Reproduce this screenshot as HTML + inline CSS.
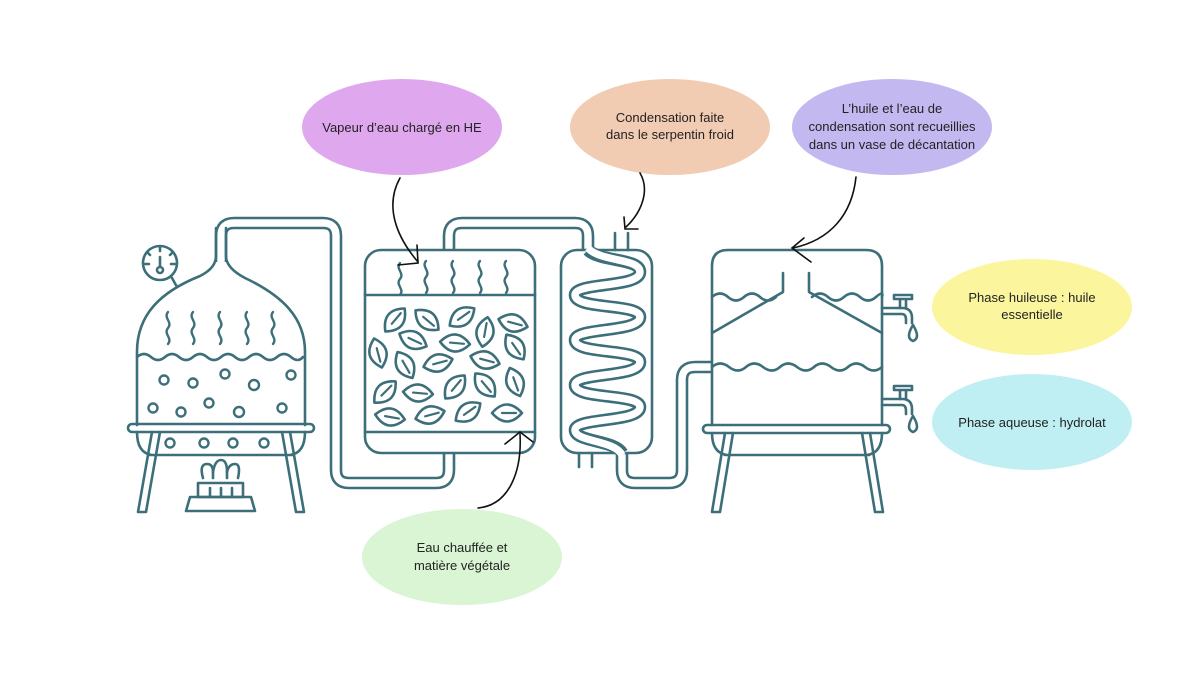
<!DOCTYPE html>
<html><head><meta charset="utf-8"><style>
html,body{margin:0;padding:0;background:#fff;}
svg{display:block;}
text{font-family:"Liberation Sans",sans-serif;font-size:13px;fill:#222;}
</style></head><body>
<svg width="1200" height="675" viewBox="0 0 1200 675" xmlns="http://www.w3.org/2000/svg">
<defs>
<g id="leaf"><path d="M-15,0 Q0,-17 15,0 Q0,17 -15,0 Z" fill="#fff" stroke="#3d6f7a" stroke-width="2.6" stroke-linejoin="round"/><line x1="-5" y1="0" x2="9" y2="0" stroke="#3d6f7a" stroke-width="2.2"/></g>
<path id="sq" d="M0,0 c-5,6 5,10 0,16 c-5,6 5,10 0,16" fill="none" stroke="#3d6f7a" stroke-width="2.4" stroke-linecap="round"/>
<g id="tap" fill="none" stroke="#3d6f7a" stroke-width="2.6" stroke-linecap="round" stroke-linejoin="round">
<path d="M0,-3 H20 Q30,-3 30,7 V12 M0,3 H20 Q24,3 24,9 V12"/>
<path d="M18,-3 V-12 M24,-3 V-12 M12,-12 H30 M12,-16 H30 M12,-12 V-16 M30,-12 V-16"/>
<path d="M31,14 Q23,27 31,30 Q39,27 31,14 Z"/>
</g>
</defs>

<ellipse cx="402" cy="127" rx="100" ry="48" fill="#dfa8ee"/>
<text x="402" y="132" text-anchor="middle">Vapeur d’eau chargé en HE</text>
<ellipse cx="670" cy="127" rx="100" ry="48" fill="#f2cbb3"/>
<text x="670" y="122" text-anchor="middle">Condensation faite</text>
<text x="670" y="139" text-anchor="middle">dans le serpentin froid</text>
<ellipse cx="892" cy="127" rx="100" ry="48" fill="#c3b9f0"/>
<text x="892" y="113" text-anchor="middle">L’huile et l’eau de</text>
<text x="892" y="131" text-anchor="middle">condensation sont recueillies</text>
<text x="892" y="149" text-anchor="middle">dans un vase de décantation</text>
<ellipse cx="1032" cy="307" rx="100" ry="48" fill="#fbf59e"/>
<text x="1032" y="302" text-anchor="middle">Phase huileuse : huile</text>
<text x="1032" y="319" text-anchor="middle">essentielle</text>
<ellipse cx="1032" cy="422" rx="100" ry="48" fill="#c0eff3"/>
<text x="1032" y="427" text-anchor="middle">Phase aqueuse : hydrolat</text>
<ellipse cx="462" cy="557" rx="100" ry="48" fill="#d9f5d3"/>
<text x="462" y="552" text-anchor="middle">Eau chauffée et</text>
<text x="462" y="570" text-anchor="middle">matière végétale</text>

<g fill="none" stroke="#3d6f7a" stroke-width="2.6" stroke-linecap="round" stroke-linejoin="round">
<g stroke-linecap="butt">
<path d="M221,262 V236 Q221,223 234,223 H323 Q336,223 336,236 V470 Q336,483 349,483 H436 Q449,483 449,470 V453" stroke-width="12.6"/>
<path d="M221,266 V236 Q221,223 234,223 H323 Q336,223 336,236 V470 Q336,483 349,483 H436 Q449,483 449,470 V450" stroke="#fff" stroke-width="7.4"/>
<path d="M449,251 V236 Q449,223 462,223 H575 Q588,223 588,236 V251" stroke-width="12.6"/>
<path d="M449,254 V236 Q449,223 462,223 H575 Q588,223 588,236 V254" stroke="#fff" stroke-width="7.4"/>
<path d="M622,452 V470 Q622,483 635,483 H669 Q682,483 682,470 V380 Q682,367 695,367 H713" stroke-width="12.6"/>
<path d="M622,449 V470 Q622,483 635,483 H669 Q682,483 682,470 V380 Q682,367 695,367 H715" stroke="#fff" stroke-width="7.4"/>
</g>

<!-- still -->
<path d="M216,228 V256 Q216,268 200,276 C160,292 137,315 137,352 V425"/>
<path d="M226,228 V256 Q226,268 245,278 C283,296 305,318 305,352 V425"/>
<path d="M137,357 q7,-6 14,0 t14,0 t14,0 t14,0 t14,0 t14,0 t14,0 t14,0 t14,0 t14,0 t14,0 t12,0"/>
<circle cx="160" cy="263" r="17"/>
<circle cx="160" cy="270" r="3"/>
<path d="M160,267 V257 M160,247 V251 M147,252 l3,3 M173,252 l-3,3 M145,264 h4 M175,264 h-4 M172,278 L177,287"/>
<use href="#sq" x="168" y="312"/><use href="#sq" x="193" y="312"/><use href="#sq" x="220" y="312"/><use href="#sq" x="247" y="312"/><use href="#sq" x="273" y="312"/>
<g stroke-width="2.4">
<circle cx="164" cy="380" r="4.5"/><circle cx="193" cy="383" r="4.5"/><circle cx="225" cy="374" r="4.5"/><circle cx="254" cy="385" r="5"/><circle cx="291" cy="375" r="4.5"/>
<circle cx="153" cy="408" r="4.5"/><circle cx="181" cy="412" r="4.5"/><circle cx="209" cy="403" r="4.5"/><circle cx="239" cy="412" r="5"/><circle cx="282" cy="408" r="4.5"/>
<circle cx="170" cy="443" r="4.5"/><circle cx="204" cy="443" r="4.5"/><circle cx="233" cy="443" r="4.5"/><circle cx="264" cy="443" r="4.5"/>
</g>
<rect x="128" y="424" width="186" height="8" rx="4"/>
<path d="M137,432 Q137,453 152,455 M305,432 Q305,453 290,455 M150,455 H292"/>
<path d="M152,432 L138,512 H146 L160,432 M290,432 L304,512 H296 L282,432"/>
<path d="M203,478 q-4,-14 4,-14 q6,0 6,8 q2,-12 8,-12 q6,0 6,12 q2,-8 8,-8 q6,0 3,14"/>
<path d="M213,472 V478 M227,472 V478"/>
<rect x="198" y="483" width="45" height="14"/>
<path d="M210,488 V497 M221,488 V497 M232,488 V497"/>
<path d="M190,497 H251 L255,511 H186 Z"/>

<!-- column 2 -->
<rect x="365" y="250" width="170" height="203" rx="16"/>
<path d="M365,295 H535 M365,432 H535"/>
<use href="#sq" x="400" y="263"/><use href="#sq" x="426" y="261"/><use href="#sq" x="453" y="261"/><use href="#sq" x="480" y="261"/><use href="#sq" x="506" y="261"/>

<!-- condenser -->
<rect x="561" y="250" width="91" height="203" rx="16"/>
<path d="M615,233 V250 M628,233 V250 M579,453 V467 M592,453 V467"/>
<g stroke-linecap="butt">
<path d="M588,250 C600,262 640,258 640,272 C640,288 575,282 575,295 C575,310 640,303 640,317 C640,333 575,327 575,340 C575,355 640,348 640,362 C640,378 575,372 575,385 C575,400 640,393 640,407 C640,423 575,417 575,430 C575,442 615,440 622,453" stroke-width="12.6"/>
<path d="M588,248 C600,262 640,258 640,272 C640,288 575,282 575,295 C575,310 640,303 640,317 C640,333 575,327 575,340 C575,355 640,348 640,362 C640,378 575,372 575,385 C575,400 640,393 640,407 C640,423 575,417 575,430 C575,442 615,440 622,455" stroke="#fff" stroke-width="7.4"/>
</g>

<!-- tank -->
<path d="M712,425 V266 Q712,250 728,250 H866 Q882,250 882,266 V425"/>
<path d="M783,273 V292 L712,333 M809,273 V292 L882,333"/>
<path d="M712,297 q8,-7 16,0 t16,0 t16,0 t16,0 M812,297 q8,-7 16,0 t16,0 t16,0 t16,0 t6,0"/>
<path d="M712,367 q8,-7 17,0 t17,0 t17,0 t17,0 t17,0 t17,0 t17,0 t17,0 t17,0 t17,0"/>
<rect x="703" y="425" width="187" height="8" rx="4"/>
<path d="M712,433 Q712,453 727,455 M882,433 Q882,453 867,455 M725,455 H869"/>
<path d="M725,433 L712,512 H720 L733,433 M862,433 L875,512 H883 L870,433"/>
<use href="#tap" x="882" y="311"/>
<use href="#tap" x="882" y="402"/>

<g stroke="none">
<use href="#leaf" transform="translate(395,320) rotate(-50)"/>
<use href="#leaf" transform="translate(427,320) rotate(40)"/>
<use href="#leaf" transform="translate(462,317) rotate(-35)"/>
<use href="#leaf" transform="translate(485,332) rotate(-80)"/>
<use href="#leaf" transform="translate(513,323) rotate(15)"/>
<use href="#leaf" transform="translate(413,340) rotate(25)"/>
<use href="#leaf" transform="translate(455,343) rotate(5)"/>
<use href="#leaf" transform="translate(378,353) rotate(75)"/>
<use href="#leaf" transform="translate(515,347) rotate(55)"/>
<use href="#leaf" transform="translate(405,365) rotate(60)"/>
<use href="#leaf" transform="translate(438,363) rotate(-15)"/>
<use href="#leaf" transform="translate(485,360) rotate(15)"/>
<use href="#leaf" transform="translate(515,382) rotate(70)"/>
<use href="#leaf" transform="translate(385,392) rotate(-45)"/>
<use href="#leaf" transform="translate(418,393) rotate(5)"/>
<use href="#leaf" transform="translate(455,387) rotate(-50)"/>
<use href="#leaf" transform="translate(485,385) rotate(50)"/>
<use href="#leaf" transform="translate(390,417) rotate(10)"/>
<use href="#leaf" transform="translate(430,415) rotate(-15)"/>
<use href="#leaf" transform="translate(468,412) rotate(-35)"/>
<use href="#leaf" transform="translate(507,413) rotate(0)"/>
</g>
</g>

<g fill="none" stroke="#111" stroke-width="1.6" stroke-linecap="round">
<path d="M400,178 C385,205 395,235 418,262"/>
<path d="M398,265 L418,263 L417,245"/>
<path d="M640,173 C650,190 642,212 626,227"/>
<path d="M624,217 L625,229 L638,229"/>
<path d="M856,177 C852,215 830,240 793,248"/>
<path d="M804,238 L792,248 L811,262"/>
<path d="M478,508 C510,505 522,470 520,434"/>
<path d="M505,444 L520,432 L533,442"/>
</g>
</svg>
</body></html>
